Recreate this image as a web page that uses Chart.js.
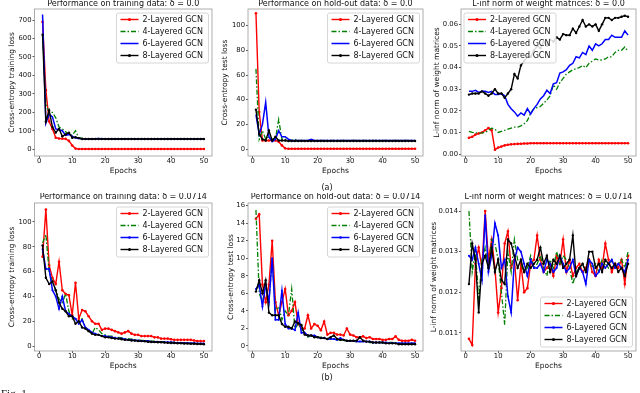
<!DOCTYPE html>
<html>
<head>
<meta charset="utf-8">
<script src="https://cdn.jsdelivr.net/npm/chart.js@4.4.0/dist/chart.umd.min.js"></script>
<style>
  body { margin: 0; background: #fff; }
  #fig { position: relative; width: 640px; height: 393px; overflow: hidden; background: #fff; }
  canvas { position: absolute; }
  .cap { position: absolute; font: 8px "DejaVu Sans"; color: #111; transform: translate(-50%, -50%); }
  #figno { position: absolute; left: 1px; top: 387px; font: 11px "Liberation Serif"; color: #111; }
</style>
</head>
<body>
<div id="fig">
  <canvas id="c1" width="216" height="180" style="left:0px;top:0px"></canvas>
  <canvas id="c2" width="213" height="180" style="left:214px;top:0px"></canvas>
  <canvas id="c3" width="213" height="180" style="left:427px;top:0px"></canvas>
  <canvas id="c4" width="216" height="182" style="left:0px;top:193px"></canvas>
  <canvas id="c5" width="213" height="182" style="left:214px;top:193px"></canvas>
  <canvas id="c6" width="213" height="182" style="left:427px;top:193px"></canvas>
  <div class="cap" style="left:327px;top:187px">(a)</div>
  <div class="cap" style="left:327px;top:377px">(b)</div>
  <div id="figno">Fig. 1</div>
</div>
<script>
// epochs 1..50
const epochs = [1,2,3,4,5,6,7,8,9,10,11,12,13,14,15,16,17,18,19,20,21,22,23,24,25,
  26,27,28,29,30,31,32,33,34,35,36,37,38,39,40,41,42,43,44,45,46,47,48,49,50];
const xTicks = [0, 10, 20, 30, 40, 50];
const seriesNames = ["2-Layered GCN", "4-Layered GCN", "6-Layered GCN", "8-Layered GCN"];

// (a) training loss, delta = 0.0
const trainA2 = [690,320,150,110,62,58,57,56,45,20,3,1,1,1,1,1,1,1,1,1,1,1,1,1,1,
  1,1,1,1,1,1,1,1,1,1,1,1,1,1,1,1,1,1,1,1,1,1,1,1,1];
const trainA4 = [620,250,200,200,170,120,110,95,80,75,100,62,60,58,57,57,57,57,57,57,57,57,57,57,57,
  57,57,57,57,57,57,57,57,57,57,57,57,57,57,57,57,57,57,57,57,57,57,57,57,57];
const trainA6 = [730,140,190,175,110,105,100,75,80,70,60,58,56,55,55,55,57,58,57,56,55,55,55,55,55,
  55,55,55,55,55,55,55,55,55,55,55,55,55,55,55,55,55,55,55,55,55,55,55,55,55];
const trainA8 = [620,150,210,120,90,110,70,80,90,62,65,60,55,55,55,55,55,55,55,55,55,55,55,55,55,
  55,55,55,55,55,55,55,55,55,55,55,55,55,55,55,55,55,55,55,55,55,55,55,55,55];
const trainATicks = [0,100,200,300,400,500,600,700];

// (a) test loss, delta = 0.0
const testA2 = [110,30,7,7,7,7,7,6,3,0.6,0.3,0.3,0.3,0.3,0.3,0.3,0.3,0.3,0.3,0.3,0.3,0.3,0.3,0.3,0.3,
  0.3,0.3,0.3,0.3,0.3,0.3,0.3,0.3,0.3,0.3,0.3,0.3,0.3,0.3,0.3,0.3,0.3,0.3,0.3,0.3,0.3,0.3,0.3,0.3,0.3];
const testA4 = [65,8,15,8,10,8,8,24,8,8,7,7,8,7,7,7,7,7,7,7,7,7,7,7,7,
  7,7,7,7,7,7,7,7,7,7,7,7,7,7,7,7,7,7,7,7,7,7,7,7,7];
const testA6 = [28,12,20,38,10,6,8,15,10,10,8,7,7,7,7,7,7,8,7,7,7,7,7,7,7,
  7,7,7,7,7,7,7,7,7,7,7,7,7,7,7,7,7,7,7,7,7,7,7,7,7];
const testA8 = [32,12,8,7,15,7,10,7,7,7,6.5,6.5,6.5,6.5,6.5,6.5,6.5,6.5,6.5,6.5,6.5,6.5,6.5,6.5,6.5,
  6.5,6.5,6.5,6.5,6.5,6.5,6.5,6.5,6.5,6.5,6.5,6.5,6.5,6.5,6.5,6.5,6.5,6.5,6.5,6.5,6.5,6.5,6.5,6.5,6.5];
const testATicks = [0,20,40,60,80,100];

// (a) L-inf norm, delta = 0.0
const linfA2 = [0.0075,0.008,0.009,0.0095,0.010,0.011,0.012,0.011,0.002,0.003,0.0035,0.004,0.0043,0.0045,0.0046,0.0047,0.0048,0.0049,0.0049,0.005,
  0.005,0.005,0.005,0.005,0.005,0.005,0.005,0.005,0.005,0.005,0.005,0.005,0.005,0.005,0.005,
  0.005,0.005,0.005,0.005,0.005,0.005,0.005,0.005,0.005,0.005,0.005,0.005,0.005,0.005,0.005];
const linfA4 = [0.0105,0.010,0.0098,0.0097,0.0098,0.010,0.011,0.012,0.0115,0.010,0.0105,0.011,0.0115,0.012,0.0125,0.0125,0.013,0.014,0.0155,0.019,
  0.021,0.0215,0.022,0.0235,0.025,0.027,0.032,0.030,0.033,0.035,0.037,0.038,0.039,0.0395,0.040,
  0.041,0.040,0.042,0.043,0.044,0.0435,0.0435,0.044,0.045,0.045,0.047,0.048,0.048,0.0495,0.0475];
const linfA6 = [0.029,0.029,0.0295,0.0285,0.029,0.029,0.0285,0.029,0.0275,0.0275,0.028,0.027,0.023,0.021,0.0195,0.0175,0.019,0.018,0.021,0.0185,
  0.021,0.023,0.0255,0.027,0.0295,0.028,0.0325,0.033,0.0375,0.038,0.039,0.041,0.042,0.045,0.0445,
  0.047,0.046,0.050,0.048,0.051,0.050,0.051,0.053,0.053,0.055,0.054,0.054,0.054,0.057,0.055];
const linfA8 = [0.0275,0.028,0.028,0.028,0.029,0.028,0.027,0.028,0.030,0.028,0.028,0.026,0.028,0.030,0.037,0.035,0.041,0.043,0.045,0.045,
  0.048,0.050,0.049,0.052,0.050,0.053,0.052,0.054,0.053,0.0555,0.055,0.055,0.058,0.056,0.059,
  0.062,0.059,0.060,0.059,0.060,0.057,0.060,0.063,0.063,0.062,0.063,0.063,0.0635,0.064,0.0635];
const linfATicks = [0,0.01,0.02,0.03,0.04,0.05,0.06];

// (b) training loss, delta = 0.0714
const trainB2 = [72,110,65,55,50,68,45,42,41,25,51,22,29,28,24,20,18,18,13,14,14,13,12,11,10,
  11,12,10,9,9,8,8,8,8,7,7,6,6,6,5.5,5,5,5,5,5,5,4.5,4,4,4];
const trainB4 = [83,90,60,52,45,38,35,42,28,22,22,20,22,15,12,10,15,13,10,9,8,8,7,7,6.5,
  6,6,5.5,5,5,4.5,4.5,4,4,4,3.5,3.5,3.5,3,3,3,3,2.8,2.6,2.5,2.4,2.3,2.2,2.1,2];
const trainB6 = [78,62,62,45,40,30,40,28,26,24,22,18,21,15,13,11,10,9,8,8,7.5,7,6.5,6,6,
  5.5,5,5,4.5,4.5,4,4,4,3.5,3.5,3.5,3,3,3,3,2.8,2.7,2.6,2.5,2.4,2.3,2.2,2.1,2,2];
const trainB8 = [81,55,50,52,45,35,30,28,24,24,18,20,15,14,12,10,9,9,8,7,7,6.5,6,6,5.5,
  5,5,4.5,4.5,4,4,3.8,3.5,3.3,3.2,3,3,2.8,2.7,2.5,2.5,2.3,2.2,2,2,1.9,1.8,1.7,1.6,1.5];
const trainBTicks = [0,20,40,60,80,100];

// (b) test loss, delta = 0.0714
const testB2 = [14.5,15,7,5,7,12,5,3.5,5,6.5,3.5,4,5,2.5,2,2,3.5,2,2.5,2.3,1.8,2.8,1.3,1.5,1.5,
  1.3,1.3,1.2,2,1.3,1.2,1,1,1.1,0.9,1,0.8,0.8,0.8,0.7,0.7,0.8,0.8,1.1,0.7,0.6,0.6,0.6,0.7,0.6];
const testB4 = [15.5,6,5,7,5,10,4,4.5,3,4,3.5,6.5,2,2.5,2,1.5,1,1.2,1.2,1,1,1,0.8,0.9,0.8,
  0.7,0.7,0.6,0.6,0.6,0.5,0.5,0.5,0.5,0.5,0.4,0.4,0.4,0.4,0.4,0.4,0.4,0.4,0.3,0.3,0.3,0.3,0.3,0.3,0.3];
const testB6 = [6.5,7,4.5,7,5,10,3,3,6.3,2.5,2,2,1.8,3.8,1.5,1.5,1.2,1.2,1.2,1,0.9,0.9,0.8,0.8,0.8,
  0.7,0.9,0.7,0.6,0.6,0.6,0.5,0.5,0.5,0.5,0.5,0.4,0.4,0.4,0.4,0.4,0.3,0.3,0.3,0.3,0.3,0.3,0.3,0.3,0.3];
const testB8 = [6.2,7.5,6,7.5,3.8,3.5,3.5,3.5,2.5,2.2,2.2,2,2.8,2.6,2.4,1.3,1.2,1.2,1,1,0.9,0.9,0.8,1,1.2,
  0.8,0.7,0.7,0.6,0.6,0.6,0.6,1,0.6,0.5,0.5,0.4,0.4,0.4,0.4,0.3,0.3,0.3,0.3,0.2,0.2,0.2,0.2,0.2,0.2];
const testBTicks = [0,2,4,6,8,10,12,14,16];

// (b) L-inf norm, delta = 0.0714
const linfB2 = [0.01085,0.0107,0.0127,0.0131,0.0126,0.0140,0.0128,0.0133,0.0126,0.0115,0.0121,0.0132,0.0135,0.0126,0.0128,0.0118,0.0127,0.0120,0.0121,0.0127,
  0.0128,0.0134,0.0128,0.0125,0.0126,0.0127,0.0124,0.0129,0.0127,0.0133,0.0125,0.0128,0.0124,0.0126,0.0127,
  0.0125,0.0126,0.0128,0.0125,0.0124,0.0128,0.0126,0.0132,0.0128,0.0125,0.0127,0.0126,0.0128,0.0122,0.0129];
const linfB4 = [0.0140,0.0125,0.0130,0.0118,0.0128,0.0131,0.0126,0.0133,0.0132,0.0128,0.0120,0.0112,0.0130,0.0125,0.0133,0.0128,0.0127,0.0125,0.0126,0.0129,
  0.0126,0.0127,0.0129,0.0126,0.0124,0.0128,0.0126,0.0130,0.0127,0.0129,0.0128,0.0126,0.0122,0.0125,0.0126,
  0.0127,0.0125,0.0128,0.0126,0.0127,0.0125,0.0128,0.0127,0.0126,0.0128,0.0126,0.0127,0.0128,0.0126,0.0130];
const linfB6 = [0.0129,0.0128,0.0131,0.0127,0.0123,0.0139,0.0125,0.0129,0.0137,0.0134,0.0126,0.0128,0.0119,0.0115,0.0128,0.0131,0.0130,0.0127,0.0124,0.0128,
  0.0126,0.0126,0.0127,0.0125,0.0128,0.0127,0.0125,0.0126,0.0129,0.0127,0.0125,0.0126,0.0128,0.0124,0.0126,
  0.0125,0.0122,0.0128,0.0127,0.0124,0.0125,0.0127,0.0126,0.0127,0.0128,0.0126,0.0127,0.0126,0.0125,0.0128];
const linfB8 = [0.0122,0.0132,0.0128,0.0115,0.0127,0.0129,0.0126,0.0131,0.0125,0.0128,0.0123,0.0122,0.0133,0.0132,0.0129,0.0126,0.0128,0.0125,0.0127,0.0126,
  0.0127,0.0128,0.0131,0.0127,0.0129,0.0125,0.0128,0.0127,0.0129,0.0126,0.0127,0.0128,0.0134,0.0124,0.0126,
  0.0127,0.0125,0.0130,0.0130,0.0126,0.0127,0.0125,0.0128,0.0127,0.0126,0.0127,0.0125,0.0126,0.0124,0.0127];
const linfBTicks = [0.011,0.012,0.013,0.014];

const FONT = '"DejaVu Sans"';
const TEXT = "#111";

function pts(vals) {
  return epochs.map((e, i) => ({ x: e, y: vals[i] }));
}

function makeSets(a2, a4, a6, a8, blueDots) {
  return [
    { label: seriesNames[0], data: pts(a2), borderColor: "#ff0000", backgroundColor: "#ff0000",
      borderWidth: 1.4, pointRadius: 1.3, pointBorderWidth: 0, order: 4 },
    { label: seriesNames[1], data: pts(a4), borderColor: "#008000", backgroundColor: "#008000",
      borderWidth: 1.3, borderDash: [5, 2, 1.5, 2], pointRadius: 0, order: 3 },
    { label: seriesNames[2], data: pts(a6), borderColor: "#0000ff", backgroundColor: "#0000ff",
      borderWidth: 1.5, pointRadius: blueDots ? 1 : 0, pointBorderWidth: 0, order: 2 },
    { label: seriesNames[3], data: pts(a8), borderColor: "#000000", backgroundColor: "#000000",
      borderWidth: 1.4, pointRadius: 1.2, pointBorderWidth: 0, order: 1 }
  ];
}

// matplotlib style box around the axes
const frame = {
  id: "frame",
  afterDatasetsDraw(chart) {
    const { ctx, chartArea: a } = chart;
    ctx.save();
    ctx.strokeStyle = "#999";
    ctx.lineWidth = 0.8;
    ctx.strokeRect(a.left, a.top, a.right - a.left, a.bottom - a.top);
    ctx.restore();
  }
};

// legend drawn inside the axes
const boxLegend = {
  id: "boxLegend",
  afterDatasetsDraw(chart, args, opts) {
    const { ctx, chartArea: a } = chart;
    const w = 92, h = 50;
    const x = opts.corner === "ul" ? a.left + 3 : a.right - 3.5 - w;
    const y = opts.corner === "lr" ? a.bottom - 4 - h : a.top + 4;
    ctx.save();
    ctx.fillStyle = "rgba(255,255,255,0.85)";
    ctx.strokeStyle = "#ccc";
    ctx.lineWidth = 0.8;
    ctx.beginPath();
    ctx.roundRect(x, y, w, h, 2);
    ctx.fill();
    ctx.stroke();
    chart.data.datasets.forEach((ds, i) => {
      const cy = y + 6.5 + i * 12;
      ctx.strokeStyle = ds.borderColor;
      ctx.lineWidth = ds.borderWidth;
      ctx.setLineDash(ds.borderDash || []);
      ctx.beginPath();
      ctx.moveTo(x + 4, cy);
      ctx.lineTo(x + 22, cy);
      ctx.stroke();
      ctx.setLineDash([]);
      if (ds.pointRadius > 0) {
        ctx.fillStyle = ds.borderColor;
        ctx.beginPath();
        ctx.arc(x + 13, cy, ds.pointRadius + 0.3, 0, Math.PI * 2);
        ctx.fill();
      }
      ctx.fillStyle = TEXT;
      ctx.font = "8px " + FONT;
      ctx.textBaseline = "middle";
      ctx.textAlign = "left";
      ctx.fillText(ds.label, x + 26, cy);
    });
    ctx.restore();
  }
};

function panel(id, o) {
  new Chart(document.getElementById(id), {
    type: "line",
    data: { datasets: makeSets(o.s2, o.s4, o.s6, o.s8, o.blueDots) },
    options: {
      responsive: false,
      animation: false,
      devicePixelRatio: 1,
      layout: { padding: { left: 0, right: o.padRight, top: 0, bottom: 0 } },
      elements: { line: { tension: 0 } },
      plugins: {
        legend: { display: false },
        tooltip: { enabled: false },
        title: {
          display: true, text: o.title, fullSize: false, color: TEXT,
          font: { family: FONT, size: 8, weight: "normal", lineHeight: 1 },
          padding: { top: 0, bottom: o.titleGap }
        },
        boxLegend: { corner: o.corner }
      },
      scales: {
        x: {
          type: "linear", min: -1.45, max: 52.45,
          afterBuildTicks: (s) => { s.ticks = xTicks.map(v => ({ value: v })); },
          afterFit: (s) => { s.height = 24; },
          border: { display: false },
          grid: { drawOnChartArea: false, drawTicks: true, tickLength: 2, tickColor: "#555" },
          ticks: { color: TEXT, padding: 0, maxRotation: 0, minRotation: 0, autoSkip: false,
            font: { family: FONT, size: 6.8, lineHeight: 1 } },
          title: { display: true, text: "Epochs", color: TEXT,
            font: { family: FONT, size: 7.5, lineHeight: 1.2 }, padding: { top: 0, bottom: 4 } }
        },
        y: {
          min: o.yMin, max: o.yMax,
          afterBuildTicks: (s) => { s.ticks = o.yTicks.map(v => ({ value: v })); },
          afterFit: (s) => { s.width = o.yWidth; },
          border: { display: false },
          grid: { drawOnChartArea: false, drawTicks: true, tickLength: 2, tickColor: "#555" },
          ticks: { color: TEXT, padding: 1, autoSkip: false,
            font: { family: FONT, size: 6.8, lineHeight: 1 },
            callback: (v) => v.toFixed(o.dec) },
          title: { display: true, text: o.yLabel, color: TEXT,
            font: { family: FONT, size: 7.5, lineHeight: 1.2 }, padding: { top: o.yTitlePad, bottom: 0 } }
        }
      }
    },
    plugins: [frame, boxLegend]
  });
}

panel("c1", { s2: trainA2, s4: trainA4, s6: trainA6, s8: trainA8, blueDots: false,
  title: "Performance on training data: \u03b4 = 0.0", yLabel: "Cross-entropy training loss",
  yMin: -37, yMax: 760, yTicks: trainATicks, dec: 0, yWidth: 34.5, yTitlePad: 7.5,
  padRight: 2.5, titleGap: 1, corner: "ur" });
panel("c2", { s2: testA2, s4: testA4, s6: testA6, s8: testA8, blueDots: false,
  title: "Performance on hold-out data: \u03b4 = 0.0", yLabel: "Cross-entropy test loss",
  yMin: -5.6, yMax: 113.5, yTicks: testATicks, dec: 0, yWidth: 34, yTitlePad: 6.5,
  padRight: 2.5, titleGap: 1, corner: "ur" });
panel("c3", { s2: linfA2, s4: linfA4, s6: linfA6, s8: linfA8, blueDots: false,
  title: "L-inf norm of weight matrices: \u03b4 = 0.0", yLabel: "L-inf norm of weight matrices",
  yMin: -0.0009, yMax: 0.0671, yTicks: linfATicks, dec: 2, yWidth: 34, yTitlePad: 5.5,
  padRight: 2, titleGap: 1, corner: "ul" });
panel("c4", { s2: trainB2, s4: trainB4, s6: trainB6, s8: trainB8, blueDots: true,
  title: "Performance on training data: \u03b4 = 0.0714", yLabel: "Cross-entropy training loss",
  yMin: -4, yMax: 115.3, yTicks: trainBTicks, dec: 0, yWidth: 34.5, yTitlePad: 7.5,
  padRight: 2.5, titleGap: 2, corner: "ur" });
panel("c5", { s2: testB2, s4: testB4, s6: testB6, s8: testB8, blueDots: true,
  title: "Performance on hold-out data: \u03b4 = 0.0714", yLabel: "Cross-entropy test loss",
  yMin: -0.57, yMax: 16.3, yTicks: testBTicks, dec: 0, yWidth: 34, yTitlePad: 12.5,
  padRight: 2.5, titleGap: 2, corner: "ur" });
panel("c6", { s2: linfB2, s4: linfB4, s6: linfB6, s8: linfB8, blueDots: true,
  title: "L-inf norm of weight matrices: \u03b4 = 0.0714", yLabel: "L-inf norm of weight matrices",
  yMin: 0.01055, yMax: 0.0142, yTicks: linfBTicks, dec: 3, yWidth: 34, yTitlePad: 2.5,
  padRight: 2, titleGap: 2, corner: "lr" });
</script>
</body>
</html>
